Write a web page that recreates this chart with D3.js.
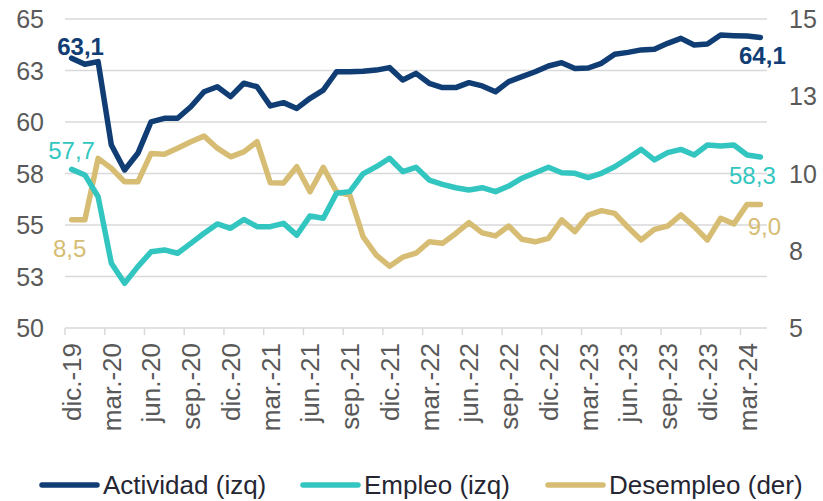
<!DOCTYPE html>
<html>
<head>
<meta charset="utf-8">
<script src="https://cdn.jsdelivr.net/npm/d3@7"></script>
<style>
	body { margin:0; background:#fff; }
	svg { display:block; font-family:"Liberation Sans", Arial, sans-serif; }
</style>
</head>
<body>
<svg id="chart" width="823" height="501"></svg>
<script>
var months = ['dic.-19','ene.-20','feb.-20','mar.-20','abr.-20','may.-20','jun.-20','jul.-20','ago.-20','sep.-20','oct.-20','nov.-20',
	'dic.-20','ene.-21','feb.-21','mar.-21','abr.-21','may.-21','jun.-21','jul.-21','ago.-21','sep.-21','oct.-21','nov.-21',
	'dic.-21','ene.-22','feb.-22','mar.-22','abr.-22','may.-22','jun.-22','jul.-22','ago.-22','sep.-22','oct.-22','nov.-22',
	'dic.-22','ene.-23','feb.-23','mar.-23','abr.-23','may.-23','jun.-23','jul.-23','ago.-23','sep.-23','oct.-23','nov.-23',
	'dic.-23','ene.-24','feb.-24','mar.-24','abr.-24']

var actividad = [63.1,62.8,62.93,58.88,57.67,58.48,60.01,60.18,60.18,60.74,61.47,61.71,
	61.23,61.88,61.71,60.78,60.94,60.66,61.15,61.55,62.44,62.44,62.46,62.52,
	62.64,62.04,62.36,61.88,61.67,61.67,61.91,61.75,61.47,61.96,62.2,62.44,
	62.72,62.88,62.6,62.62,62.85,63.29,63.38,63.5,63.53,63.82,64.06,63.74,
	63.79,64.22,64.19,64.17,64.1]

var empleo = [57.7,57.43,56.37,53.14,52.17,52.98,53.7,53.79,53.63,54.11,54.6,55.05,
	54.84,55.27,54.92,54.92,55.08,54.51,55.44,55.33,56.54,56.62,57.48,57.83,
	58.24,57.59,57.8,57.18,56.97,56.81,56.7,56.81,56.62,56.89,57.27,57.54,
	57.8,57.54,57.51,57.3,57.51,57.83,58.24,58.67,58.16,58.51,58.67,58.4,
	58.88,58.83,58.88,58.4,58.3]

var desempleo = [8.5,8.5,10.49,10.17,9.73,9.73,10.65,10.62,10.82,11.03,11.21,10.82,
	10.54,10.7,11.03,9.7,9.69,10.22,9.41,10.2,9.41,9.3,7.96,7.36,
	7.0,7.29,7.42,7.79,7.74,8.06,8.41,8.08,7.98,8.3,7.87,7.79,
	7.9,8.5,8.12,8.65,8.8,8.71,8.26,7.85,8.19,8.3,8.66,8.28,
	7.85,8.55,8.37,9.0,9.0]

var left_ticks = [50,52.5,55,57.5,60,62.5,65],
	right_ticks = [5,7.5,10,12.5,15],
	x_labels = ['dic.-19','mar.-20','jun.-20','sep.-20','dic.-20','mar.-21','jun.-21','sep.-21','dic.-21',
		'mar.-22','jun.-22','sep.-22','dic.-22','mar.-23','jun.-23','sep.-23','dic.-23','mar.-24']

var series_names = ['Actividad (izq)','Empleo (izq)','Desempleo (der)'],
	series_colors = ['#0f3d74','#33c6c1','#d6bd73']

var svg = d3.select('#chart')
var plot_left = 65, plot_right = 767, plot_top = 19, plot_bottom = 328

var x = d3.scaleBand()
	.domain(months)
	.range([plot_left,plot_right])
var y_left = d3.scaleLinear()
	.domain([50,65])
	.range([plot_bottom,plot_top])
var y_right = d3.scaleLinear()
	.domain([5,15])
	.range([plot_bottom,plot_top])
function cx(m) { return x(m) + x.bandwidth()/2 }

// gridlines
svg.append('g')
	.selectAll('line')
	.data(left_ticks)
	.join('line')
	.attr('x1',plot_left)
	.attr('x2',plot_right)
	.attr('y1',function(d){ return y_left(d) })
	.attr('y2',function(d){ return y_left(d) })
	.style('stroke','#d9d9d9')
	.style('stroke-width',1.5)

// left axis labels
svg.append('g')
	.selectAll('text')
	.data(left_ticks)
	.join('text')
	.attr('x',44)
	.attr('y',function(d){ return y_left(d) })
	.attr('dy','0.36em')
	.attr('text-anchor','end')
	.style('font-size','25px')
	.style('fill','#595959')
	.text(function(d){ return Math.round(d) })

// right axis labels
svg.append('g')
	.selectAll('text')
	.data(right_ticks)
	.join('text')
	.attr('x',789)
	.attr('y',function(d){ return y_right(d) })
	.attr('dy','0.36em')
	.style('font-size','25px')
	.style('fill','#595959')
	.text(function(d){ return Math.round(d) })

// x axis ticks, every 3 months
var tick_months = months.filter(function(d,i){ return i % 3 === 0 })
svg.append('g')
	.selectAll('line')
	.data(tick_months)
	.join('line')
	.attr('x1',function(d){ return x(d) })
	.attr('x2',function(d){ return x(d) })
	.attr('y1',plot_bottom)
	.attr('y2',plot_bottom + 7)
	.style('stroke','#d9d9d9')
	.style('stroke-width',1.5)

svg.append('g')
	.selectAll('text')
	.data(x_labels)
	.join('text')
	.attr('transform',function(d){ return 'translate(' + cx(d) + ',' + (plot_bottom + 15) + ') rotate(-90)' })
	.attr('dy','0.36em')
	.attr('text-anchor','end')
	.style('font-size','26px')
	.style('fill','#595959')
	.text(function(d){ return d })

// series
var series = [
	{values: actividad, scale: y_left},
	{values: empleo, scale: y_left},
	{values: desempleo, scale: y_right}
]
var draw_order = [2,1,0]
draw_order.forEach(function(k){
	var s = series[k]
	var line = d3.line()
		.x(function(d,i){ return cx(months[i]) })
		.y(function(d){ return s.scale(d) })
	svg.append('path')
		.datum(s.values)
		.attr('d',line)
		.style('fill','none')
		.style('stroke',series_colors[k])
		.style('stroke-width',5.5)
		.style('stroke-linejoin','round')
		.style('stroke-linecap','round')
})

// data labels for first and last point
var labels = [
	{s:0, i:0, dx:9, dy:-3, bold:true},
	{s:0, i:52, dx:2, dy:26, bold:true},
	{s:1, i:0, dx:0, dy:-10, bold:false},
	{s:1, i:52, dx:-8, dy:27, bold:false},
	{s:2, i:0, dx:-2, dy:37, bold:false},
	{s:2, i:52, dx:4, dy:31, bold:false}
]
svg.append('g')
	.selectAll('text')
	.data(labels)
	.join('text')
	.attr('x',function(d){ return cx(months[d.i]) + d.dx })
	.attr('y',function(d){ return series[d.s].scale(series[d.s].values[d.i]) + d.dy })
	.attr('text-anchor','middle')
	.style('font-size','24px')
	.style('font-weight',function(d){ return d.bold ? 'bold' : 'normal' })
	.style('fill',function(d){ return series_colors[d.s] })
	.text(function(d){ return d3.format('.1f')(series[d.s].values[d.i]).replace('.',',') })

// legend
var legend_x = [42,303,548]
var legend = svg.append('g')
	.selectAll('g')
	.data(series_names)
	.join('g')
	.attr('transform',function(d,i){ return 'translate(' + legend_x[i] + ',485)' })
legend.append('line')
	.attr('x1',0)
	.attr('x2',55)
	.style('stroke',function(d,i){ return series_colors[i] })
	.style('stroke-width',5.5)
	.style('stroke-linecap','round')
legend.append('text')
	.attr('x',61)
	.attr('dy','0.36em')
	.style('font-size','26px')
	.style('fill','#262633')
	.text(function(d){ return d })
</script>
</body>
</html>
